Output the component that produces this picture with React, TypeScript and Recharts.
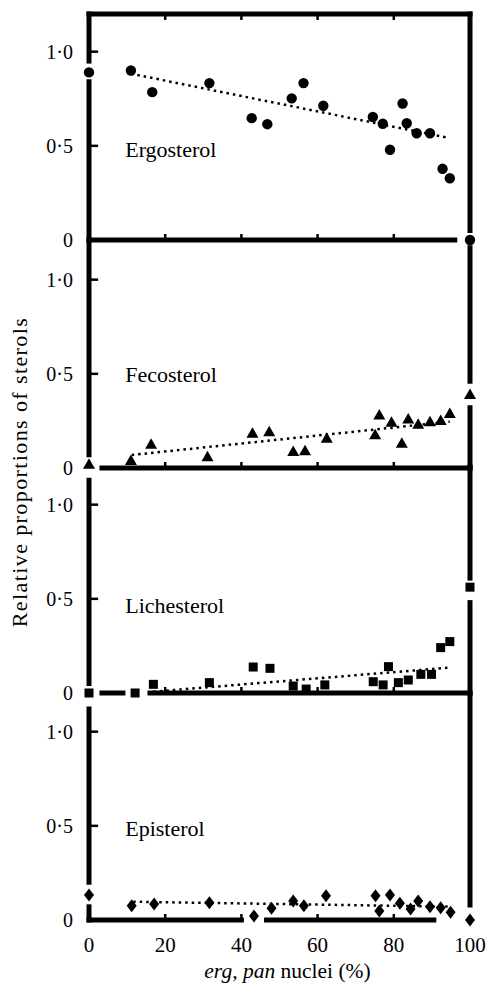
import React from 'react';
import { ScatterChart, Scatter, XAxis, YAxis, ReferenceLine, ReferenceDot } from 'recharts';

// erg, pan nuclei (%) and relative sterol proportions, read per panel
const ergX = [0, 11, 16.6, 31.6, 42.7, 46.8, 53.2, 56.3, 61.5, 74.5, 77.1, 79, 82.3, 83.4, 86, 89.5, 92.8, 94.7, 100];
const ergY = [0.89, 0.9, 0.785, 0.833, 0.647, 0.615, 0.752, 0.833, 0.713, 0.653, 0.617, 0.479, 0.725, 0.62, 0.567, 0.567, 0.378, 0.328, 0];
const ergTrendX = [11, 94];
const ergTrendY = [0.883, 0.544];

const fecX = [0, 11, 16.3, 31.1, 42.9, 47.3, 53.6, 56.7, 62.4, 75.1, 76.2, 79.4, 82.1, 83.8, 86.4, 89.5, 92.3, 94.7, 100];
const fecY = [0.02, 0.04, 0.126, 0.06, 0.185, 0.193, 0.087, 0.092, 0.158, 0.176, 0.282, 0.243, 0.131, 0.26, 0.232, 0.246, 0.252, 0.29, 0.39];
const fecTrendX = [11.2, 94.7];
const fecTrendY = [0.069, 0.246];

const licX = [0, 12.1, 16.9, 31.6, 43.1, 47.5, 53.6, 57, 61.9, 74.6, 77.2, 78.6, 81.2, 83.8, 87.1, 89.9, 92.3, 94.7, 100];
const licY = [0, 0, 0.046, 0.055, 0.138, 0.131, 0.037, 0.021, 0.043, 0.06, 0.043, 0.14, 0.055, 0.069, 0.099, 0.099, 0.241, 0.273, 0.562];
const licTrendX = [16.9, 94.7];
const licTrendY = [0.007, 0.135];

const epiX = [0, 11.2, 17.1, 31.6, 43.3, 47.9, 53.6, 56.4, 62.2, 75.2, 76.2, 79, 81.6, 84.4, 86.4, 89.5, 92.3, 94.9, 100];
const epiY = [0.133, 0.076, 0.085, 0.092, 0.021, 0.062, 0.101, 0.076, 0.129, 0.129, 0.048, 0.133, 0.089, 0.059, 0.101, 0.071, 0.065, 0.041, 0];
const epiTrendX = [11.6, 94.3];
const epiTrendY = [0.097, 0.071];

const xTicks = [0, 20, 40, 60, 80, 100];
const yTicks = [0, 0.5, 1];

const FONT = "'Liberation Serif', 'Times New Roman', serif";
const W = 492;
const PLOT_H = 226;
const TOP_PAD = 20;
const AXIS_H = 70;

type Seg = [number, number, number, number];

const zip = (xs: number[], ys: number[]) => xs.map((x, i) => ({ x, y: ys[i] }));

// broken frame lines (gaps where the parental points sit on the axes)
const panels = [
  {
    name: 'Ergosterol', top: 14, xs: ergX, ys: ergY, tx: ergTrendX, ty: ergTrendY, marker: 'circle', labelY: 0.443, topTicks: true,
    frame: [[0, 1.2, 100, 1.2], [0, 1.2, 0, 0.95], [0, 0.84, 0, 0], [0, 0, 96, 0], [100, 1.2, 100, 0.05]] as Seg[],
  },
  {
    name: 'Fecosterol', top: 242, xs: fecX, ys: fecY, tx: fecTrendX, ty: fecTrendY, marker: 'triangle', labelY: 0.454, topTicks: false,
    frame: [[0, 1.2, 0, 0.07], [3.4, 0, 100, 0], [100, 1.17, 100, 0.46], [100, 0.32, 100, 0]] as Seg[],
  },
  {
    name: 'Lichesterol', top: 467, xs: licX, ys: licY, tx: licTrendX, ty: licTrendY, marker: 'square', labelY: 0.424, topTicks: false,
    frame: [[0, 1.13, 0, 0.05], [3.4, 0, 8.9, 0], [16, 0, 100, 0], [100, 1.2, 100, 0.61], [100, 0.48, 100, 0]] as Seg[],
  },
  {
    name: 'Episterol', top: 694, xs: epiX, ys: epiY, tx: epiTrendX, ty: epiTrendY, marker: 'diamond', labelY: 0.447, topTicks: false,
    frame: [[0, 1.12, 0, 0.2], [0, 0.07, 0, 0], [0, 0, 40, 0], [46.6, 0, 90.5, 0], [100, 1.2, 100, 0.08]] as Seg[],
  },
];

const marker = (kind: string) => (p: any) => {
  const { cx, cy } = p;
  if (kind === 'circle') return <circle cx={cx} cy={cy} r={5.2} fill="#000" />;
  if (kind === 'triangle')
    return <path d={`M${cx},${cy - 6}L${cx + 6},${cy + 4.5}L${cx - 6},${cy + 4.5}Z`} fill="#000" />;
  if (kind === 'square') return <rect x={cx - 4.5} y={cy - 4.5} width={9} height={9} fill="#000" />;
  return <path d={`M${cx},${cy - 6.5}L${cx + 5},${cy}L${cx},${cy + 6.5}L${cx - 5},${cy}Z`} fill="#000" />;
};

const fmtY = (v: number) => (v === 0 ? '0' : v.toFixed(1).replace('.', '·'));

const XTitle = (props: any) => {
  const vb = props.viewBox;
  return (
    <text x={vb.x + vb.width / 2 + 8} y={vb.y + 58} textAnchor="middle" fontFamily={FONT} fontSize={21.5} fill="#000">
      <tspan fontStyle="italic">erg, pan</tspan> nuclei (%)
    </text>
  );
};

function Panel({ cfg, last }: { cfg: (typeof panels)[number]; last: boolean }) {
  const ticks: Seg[] = [
    ...[20, 40, 60, 80].map((x) => [x, 0, x, 0.032] as Seg),
    [0, 1, 2.4, 1],
    [0, 0.5, 2.4, 0.5],
    ...(cfg.topTicks ? [20, 40, 60, 80].map((x) => [x, 1.2, x, 1.168] as Seg) : []),
  ];
  return (
    <div style={{ position: 'absolute', left: 0, top: cfg.top - TOP_PAD }}>
      <ScatterChart width={W} height={TOP_PAD + PLOT_H + AXIS_H} margin={{ top: TOP_PAD, right: 22, bottom: 0, left: 0 }}>
        <XAxis
          type="number"
          dataKey="x"
          domain={[0, 100]}
          ticks={xTicks}
          axisLine={false}
          tickLine={false}
          tickSize={0}
          tickMargin={17}
          height={AXIS_H}
          tick={last ? { fill: '#000', fontSize: 21, fontFamily: FONT } : false}
          label={last ? (p: any) => <XTitle {...p} /> : undefined}
        />
        <YAxis
          type="number"
          dataKey="y"
          domain={[0, 1.2]}
          ticks={yTicks}
          width={89}
          axisLine={false}
          tickLine={false}
          tickSize={0}
          tickMargin={16}
          tickFormatter={fmtY}
          tick={{ fill: '#000', fontSize: 20, fontFamily: FONT }}
        />
        {cfg.frame.map((s, i) => (
          <ReferenceLine
            key={'f' + i}
            segment={[{ x: s[0], y: s[1] }, { x: s[2], y: s[3] }]}
            stroke="#000"
            strokeWidth={5}
            strokeLinecap="square"
            ifOverflow="visible"
          />
        ))}
        {ticks.map((s, i) => (
          <ReferenceLine
            key={'t' + i}
            segment={[{ x: s[0], y: s[1] }, { x: s[2], y: s[3] }]}
            stroke="#000"
            strokeWidth={2.5}
            ifOverflow="visible"
          />
        ))}
        <Scatter
          data={zip(cfg.tx, cfg.ty)}
          line={{ stroke: '#000', strokeWidth: 2.5, strokeDasharray: '2.5 4' }}
          shape={() => <g />}
          isAnimationActive={false}
        />
        <Scatter data={zip(cfg.xs, cfg.ys)} shape={marker(cfg.marker)} isAnimationActive={false} />
        <ReferenceDot
          x={9.5}
          y={cfg.labelY}
          r={0}
          ifOverflow="visible"
          shape={(p: any) => (
            <text x={p.cx} y={p.cy} fontFamily={FONT} fontSize={22} fill="#000">
              {cfg.name}
            </text>
          )}
        />
      </ScatterChart>
    </div>
  );
}

export default function App() {
  return (
    <div style={{ position: 'absolute', left: 0, top: 0, width: W, height: 989, background: '#fff' }}>
      <svg width={W} height={989} style={{ position: 'absolute', left: 0, top: 0 }}>
        <text
          transform="translate(27,472) rotate(-90)"
          textAnchor="middle"
          fontFamily={FONT}
          fontSize={22}
          letterSpacing={1.4}
          fill="#000"
        >
          Relative proportions of sterols
        </text>
      </svg>
      {panels.map((p, i) => (
        <Panel key={p.name} cfg={p} last={i === panels.length - 1} />
      ))}
    </div>
  );
}
